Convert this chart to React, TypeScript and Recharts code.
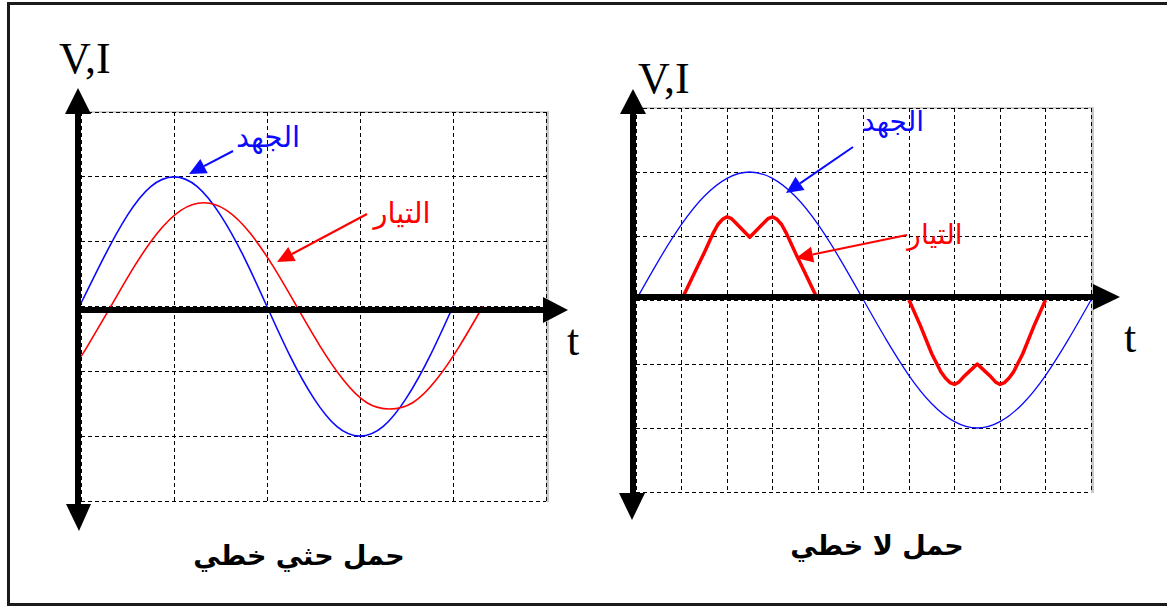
import React from 'react';
import { LineChart, Line, XAxis, YAxis, CartesianGrid } from 'recharts';

// inductive linear load (left scope), time in grid divisions
const LEFT_V_T = [0, 0.25, 0.5, 0.75, 1, 1.25, 1.5, 1.75, 2, 2.25, 2.5, 2.75, 3, 3.25, 3.5, 3.75, 4];
const LEFT_V = [0.05, 0.77, 1.41, 1.85, 2, 1.85, 1.41, 0.77, 0, -0.77, -1.41, -1.85, -2, -1.85, -1.41, -0.77, 0];
const LEFT_I_T = [0, 0.07, 0.32, 0.57, 0.82, 1.07, 1.32, 1.57, 1.82, 2.07, 2.32, 2.57, 2.82, 3.07, 3.32, 3.57, 3.82, 4.07, 4.32];
const LEFT_I = [-0.77, -0.61, 0, 0.61, 1.13, 1.48, 1.6, 1.48, 1.13, 0.61, 0, -0.61, -1.13, -1.48, -1.58, -1.48, -1.13, -0.61, 0];
const LEFT_X_TICKS = [0, 1, 2, 3, 4, 5];

// non-linear load (right scope)
const RIGHT_V_T = [0, 0.5, 1, 1.5, 2, 2.5, 3, 3.5, 4, 4.5, 5, 5.5, 6, 6.5, 7, 7.5, 8, 8.5, 9, 9.5, 10];
const RIGHT_V = [0, 0.62, 1.18, 1.62, 1.9, 2, 1.9, 1.62, 1.18, 0.62, 0, -0.62, -1.18, -1.62, -1.9, -2, -1.9, -1.62, -1.18, -0.62, 0];
const RIGHT_I_T = [
  1, 1.25, 1.5, 1.7, 1.8, 1.9, 2, 2.1, 2.2, 2.35, 2.5, 2.65, 2.8, 2.9, 3, 3.1, 3.2, 3.3, 3.5, 3.75, 4,
  5,
  6, 6.25, 6.5, 6.7, 6.8, 6.9, 7, 7.1, 7.2, 7.35, 7.5, 7.65, 7.8, 7.9, 8, 8.1, 8.2, 8.3, 8.5, 8.75, 9,
];
const RIGHT_I = [
  0, 0.37, 0.74, 1.05, 1.18, 1.26, 1.3, 1.27, 1.2, 1.09, 0.98, 1.09, 1.2, 1.27, 1.3, 1.26, 1.18, 1.05, 0.74, 0.37, 0,
  null,
  0, -0.4, -0.84, -1.12, -1.22, -1.29, -1.32, -1.28, -1.2, -1.1, -1.0, -1.1, -1.2, -1.28, -1.32, -1.29, -1.22, -1.12, -0.84, -0.4, 0,
];
const RIGHT_X_TICKS = [0, 1, 2, 3, 4, 5, 6, 7, 8, 9, 10];

const Y_TICKS = [-3, -2, -1, 0, 1, 2, 3];

const BLUE = '#0a0aff';
const RED = '#ff0000';

const rows = (ts: number[], ys: (number | null)[]) => ts.map((t, i) => ({ t, y: ys[i] }));

function Scope({ left, top, width, height, xMax, xTicks, children }: any) {
  const pad = 4;
  return (
    <div style={{ position: 'absolute', left: left - pad, top: top - pad, width: width + 2 * pad, height: height + 2 * pad }}>
      <div
        style={{
          position: 'absolute',
          left: pad,
          top: pad - 1,
          width,
          height,
          borderTop: '2px solid #d0d0d0',
          borderRight: '3px solid #c8c8c8',
        }}
      />
      <LineChart
        style={{ position: 'absolute', left: 0, top: 0 }}
        width={width + 2 * pad}
        height={height + 2 * pad}
        margin={{ top: pad, right: pad, bottom: pad, left: pad }}
      >
        <CartesianGrid stroke="#000" strokeDasharray="4 3" shapeRendering="crispEdges" />
        <XAxis
          type="number"
          dataKey="t"
          domain={[0, xMax]}
          ticks={xTicks}
          height={0}
          mirror
          axisLine={{ stroke: '#555', strokeWidth: 2 }}
          tickLine={{ stroke: '#444' }}
          tickSize={9}
          tickFormatter={() => ''}
        />
        <YAxis type="number" domain={[-3, 3]} ticks={Y_TICKS} width={0} hide />
        {children}
      </LineChart>
    </div>
  );
}

function Arrow({ x1, y1, x2, y2, color }: any) {
  const dx = x2 - x1;
  const dy = y2 - y1;
  const len = Math.hypot(dx, dy);
  const ux = dx / len;
  const uy = dy / len;
  const hl = 17;
  const hw = 8;
  const bx = x2 - ux * hl;
  const by = y2 - uy * hl;
  const pts = `${x2},${y2} ${bx - uy * hw},${by + ux * hw} ${bx + uy * hw},${by - ux * hw}`;
  return (
    <g>
      <line x1={x1} y1={y1} x2={bx} y2={by} stroke={color} strokeWidth={2} />
      <polygon points={pts} fill={color} />
    </g>
  );
}

function Overlay() {
  const serif = "'Liberation Serif', 'Times New Roman', serif";
  const arabic = "'DejaVu Sans', sans-serif";
  return (
    <svg width={1167} height={606} style={{ position: 'absolute', left: 0, top: 0, pointerEvents: 'none' }}>
      <rect x={8.5} y={3.5} width={1170} height={601} fill="none" stroke="#1a1a1a" strokeWidth={3} />

      {/* left axes */}
      <line x1={78} y1={105} x2={78} y2={510} stroke="#000" strokeWidth={6} />
      <polygon points="65,114 91,114 78,88" fill="#000" />
      <polygon points="66,504 91,504 79,531" fill="#000" />
      <line x1={75} y1={310} x2={546} y2={310} stroke="#000" strokeWidth={6} />
      <polygon points="543,297 543,323 568,310" fill="#000" />
      <text x={59} y={73} fontFamily={serif} fontSize={44}>V,I</text>
      <text x={567} y={355} fontFamily={serif} fontSize={44}>t</text>

      {/* right axes */}
      <line x1={633} y1={105} x2={633} y2={500} stroke="#000" strokeWidth={6} />
      <polygon points="620,114 646,114 633,89" fill="#000" />
      <polygon points="619,493 645,493 632,520" fill="#000" />
      <line x1={630} y1={297} x2={1095} y2={297} stroke="#000" strokeWidth={6} />
      <polygon points="1093,284 1093,310 1120,297" fill="#000" />
      <text x={638} y={93} fontFamily={serif} fontSize={44}>V,I</text>
      <text x={1124} y={352} fontFamily={serif} fontSize={44}>t</text>

      {/* annotations */}
      <text x={268} y={147} textAnchor="middle" fontFamily={arabic} fontSize={29} fill={BLUE}>الجهد</text>
      <Arrow x1={233} y1={151} x2={189} y2={174} color={BLUE} />
      <text x={402} y={223} textAnchor="middle" fontFamily={arabic} fontSize={29} fill={RED}>التيار</text>
      <Arrow x1={367} y1={214} x2={277} y2={262} color={RED} />

      <text x={893} y={131} textAnchor="middle" fontFamily={arabic} fontSize={28} fill={BLUE}>الجهد</text>
      <Arrow x1={853} y1={147} x2={786} y2={193} color={BLUE} />
      <text x={935} y={244} textAnchor="middle" fontFamily={arabic} fontSize={28} fill={RED}>التيار</text>
      <Arrow x1={907} y1={235} x2={796} y2={258} color={RED} />

      <text x={299} y={565} textAnchor="middle" fontFamily={arabic} fontWeight="bold" fontSize={27} fill="#000">حمل حثي خطي</text>
      <text x={877} y={555} textAnchor="middle" fontFamily={arabic} fontWeight="bold" fontSize={27} fill="#000">حمل لا خطي</text>
    </svg>
  );
}

export default function App() {
  return (
    <div style={{ position: 'absolute', left: 0, top: 0, width: 1167, height: 606, background: '#fff', overflow: 'hidden' }}>
      <Scope left={81} top={112} width={465} height={389} xMax={5} xTicks={LEFT_X_TICKS}>
        <Line data={rows(LEFT_V_T, LEFT_V)} dataKey="y" type="natural" stroke={BLUE} strokeWidth={1.6} dot={false} isAnimationActive={false} />
        <Line data={rows(LEFT_I_T, LEFT_I)} dataKey="y" type="natural" stroke={RED} strokeWidth={1.6} dot={false} isAnimationActive={false} />
      </Scope>
      <Scope left={636} top={108} width={455} height={384} xMax={10} xTicks={RIGHT_X_TICKS}>
        <Line data={rows(RIGHT_V_T, RIGHT_V)} dataKey="y" type="natural" stroke={BLUE} strokeWidth={1.3} dot={false} isAnimationActive={false} />
        <Line data={rows(RIGHT_I_T, RIGHT_I)} dataKey="y" type="linear" stroke={RED} strokeWidth={3.5} strokeLinejoin="round" dot={false} isAnimationActive={false} />
      </Scope>
      <Overlay />
    </div>
  );
}
